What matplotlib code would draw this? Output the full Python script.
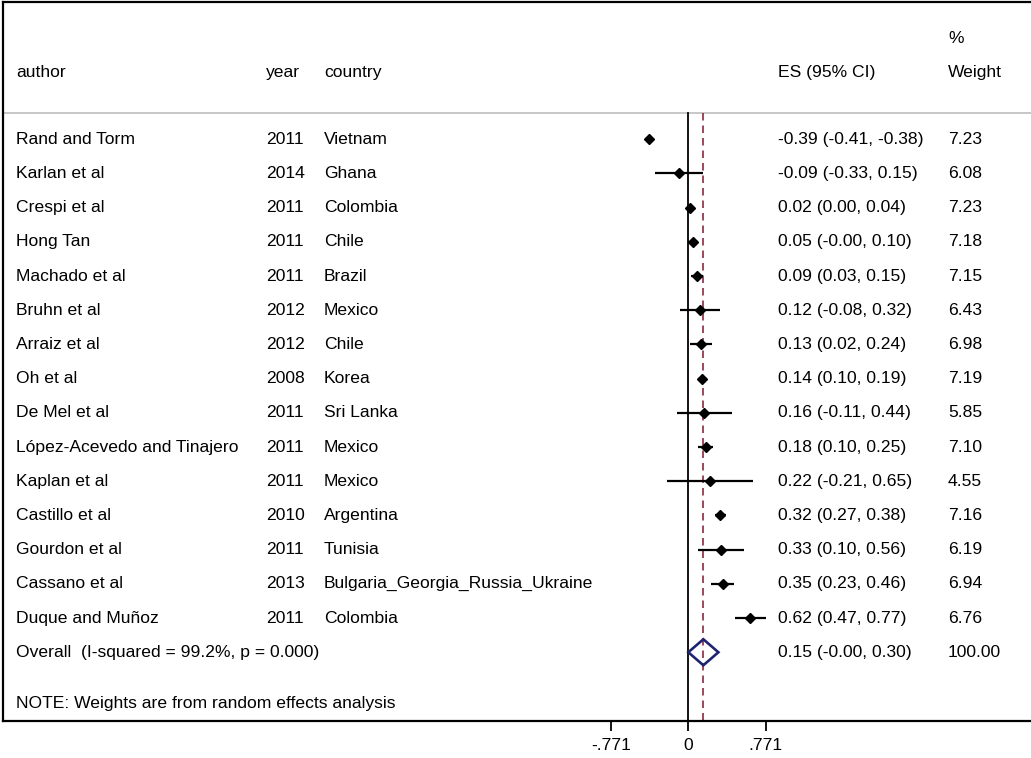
import matplotlib
matplotlib.use("Agg")
import matplotlib.pyplot as plt
from matplotlib import transforms
from matplotlib.patches import Polygon

plt.rcParams['font.family'] = ['Liberation Sans', 'DejaVu Sans']

authors = ["Rand and Torm", "Karlan et al", "Crespi et al", "Hong Tan", "Machado et al",
           "Bruhn et al", "Arraiz et al", "Oh et al", "De Mel et al",
           "López-Acevedo and Tinajero", "Kaplan et al", "Castillo et al",
           "Gourdon et al", "Cassano et al", "Duque and Muñoz"]
years = [2011, 2014, 2011, 2011, 2011, 2012, 2012, 2008, 2011, 2011, 2011, 2010, 2011, 2013, 2011]
countries = ["Vietnam", "Ghana", "Colombia", "Chile", "Brazil", "Mexico", "Chile", "Korea",
             "Sri Lanka", "Mexico", "Mexico", "Argentina", "Tunisia",
             "Bulgaria_Georgia_Russia_Ukraine", "Colombia"]
es = [-0.39, -0.09, 0.02, 0.05, 0.09, 0.12, 0.13, 0.14, 0.16, 0.18, 0.22, 0.32, 0.33, 0.35, 0.62]
lo = [-0.41, -0.33, 0.00, -0.00, 0.03, -0.08, 0.02, 0.10, -0.11, 0.10, -0.21, 0.27, 0.10, 0.23, 0.47]
hi = [-0.38, 0.15, 0.04, 0.10, 0.15, 0.32, 0.24, 0.19, 0.44, 0.25, 0.65, 0.38, 0.56, 0.46, 0.77]
weights = [7.23, 6.08, 7.23, 7.18, 7.15, 6.43, 6.98, 7.19, 5.85, 7.10, 4.55, 7.16, 6.19, 6.94, 6.76]

overall_es, overall_lo, overall_hi = 0.15, -0.00, 0.30
overall_weight = "100.00"
overall_ci = "0.15 (-0.00, 0.30)"
overall_label = "Overall  (I-squared = 99.2%, p = 0.000)"
note = "NOTE: Weights are from random effects analysis"
xticks = [-0.771, 0, 0.771]
xticklabels = ["-.771", "0", ".771"]

W, H = 1031, 758
fig = plt.figure(figsize=(W / 100, H / 100), dpi=100)
ax = fig.add_axes([3 / W, (H - 721) / H, (W - 3) / W, (721 - 2) / H])

FS = 12.6
n = len(es)
rows = list(range(n))
overall_row = n

ax.set_xlim(-6.833, 3.417)
ax.set_ylim(17.01, -4.015)

# frame
for s in ['left', 'top', 'bottom']:
    ax.spines[s].set_linewidth(1.6)
    ax.spines[s].set_color('black')
ax.spines['right'].set_visible(False)
ax.set_yticks([])
ax.set_xticks(xticks)
ax.set_xticklabels(xticklabels, fontsize=FS)
ax.tick_params(axis='x', direction='out', length=7.5, width=1.3, pad=5)

# header separator
sep_y = -0.763
ax.axhline(sep_y, color='#bdbdbd', lw=1.2)

# null line and overall-effect line
ax.plot([0, 0], [sep_y, 17.01], color='black', lw=1.3, zorder=2)
ax.plot([overall_es, overall_es], [sep_y, 17.01], color='#8c2a3c', lw=1.2,
        dashes=(4.5, 3), zorder=2)

# study estimates with confidence intervals
ax.hlines(rows, lo, hi, color='black', lw=1.6, zorder=3)
ax.plot(es, rows, 'D', color='black', markersize=5.2, zorder=4)

# pooled estimate diamond
dia = Polygon([[overall_lo, overall_row], [overall_es, overall_row - 0.38],
               [overall_hi, overall_row], [overall_es, overall_row + 0.38]],
              closed=True, fill=False, edgecolor='#1f2470', lw=1.9, zorder=4)
ax.add_patch(dia)

# text columns
tr = transforms.blended_transform_factory(fig.transFigure, ax.transData)
col_author, col_year, col_country, col_es, col_wt = 16 / W, 266 / W, 324 / W, 778 / W, 948 / W

hdr_y = -1.968
ax.text(col_author, hdr_y, "author", transform=tr, fontsize=FS, va='center')
ax.text(col_year, hdr_y, "year", transform=tr, fontsize=FS, va='center')
ax.text(col_country, hdr_y, "country", transform=tr, fontsize=FS, va='center')
ax.text(col_es, hdr_y, "ES (95% CI)", transform=tr, fontsize=FS, va='center')
ax.text(col_wt, hdr_y, "Weight", transform=tr, fontsize=FS, va='center')
ax.text(col_wt, -2.96, "%", transform=tr, fontsize=FS, va='center')

for i in rows:
    ax.text(col_author, i, authors[i], transform=tr, fontsize=FS, va='center')
    ax.text(col_year, i, str(years[i]), transform=tr, fontsize=FS, va='center')
    ax.text(col_country, i, countries[i], transform=tr, fontsize=FS, va='center')
    ax.text(col_es, i, f"{es[i]:.2f} ({lo[i]:.2f}, {hi[i]:.2f})", transform=tr,
            fontsize=FS, va='center')
    ax.text(col_wt, i, f"{weights[i]:.2f}", transform=tr, fontsize=FS, va='center')

ax.text(col_author, overall_row, overall_label, transform=tr, fontsize=FS, va='center')
ax.text(col_es, overall_row, overall_ci, transform=tr, fontsize=FS, va='center')
ax.text(col_wt, overall_row, overall_weight, transform=tr, fontsize=FS, va='center')
ax.text(col_author, 16.51, note, transform=tr, fontsize=FS, va='center')

fig.savefig("out.png", dpi=100)
